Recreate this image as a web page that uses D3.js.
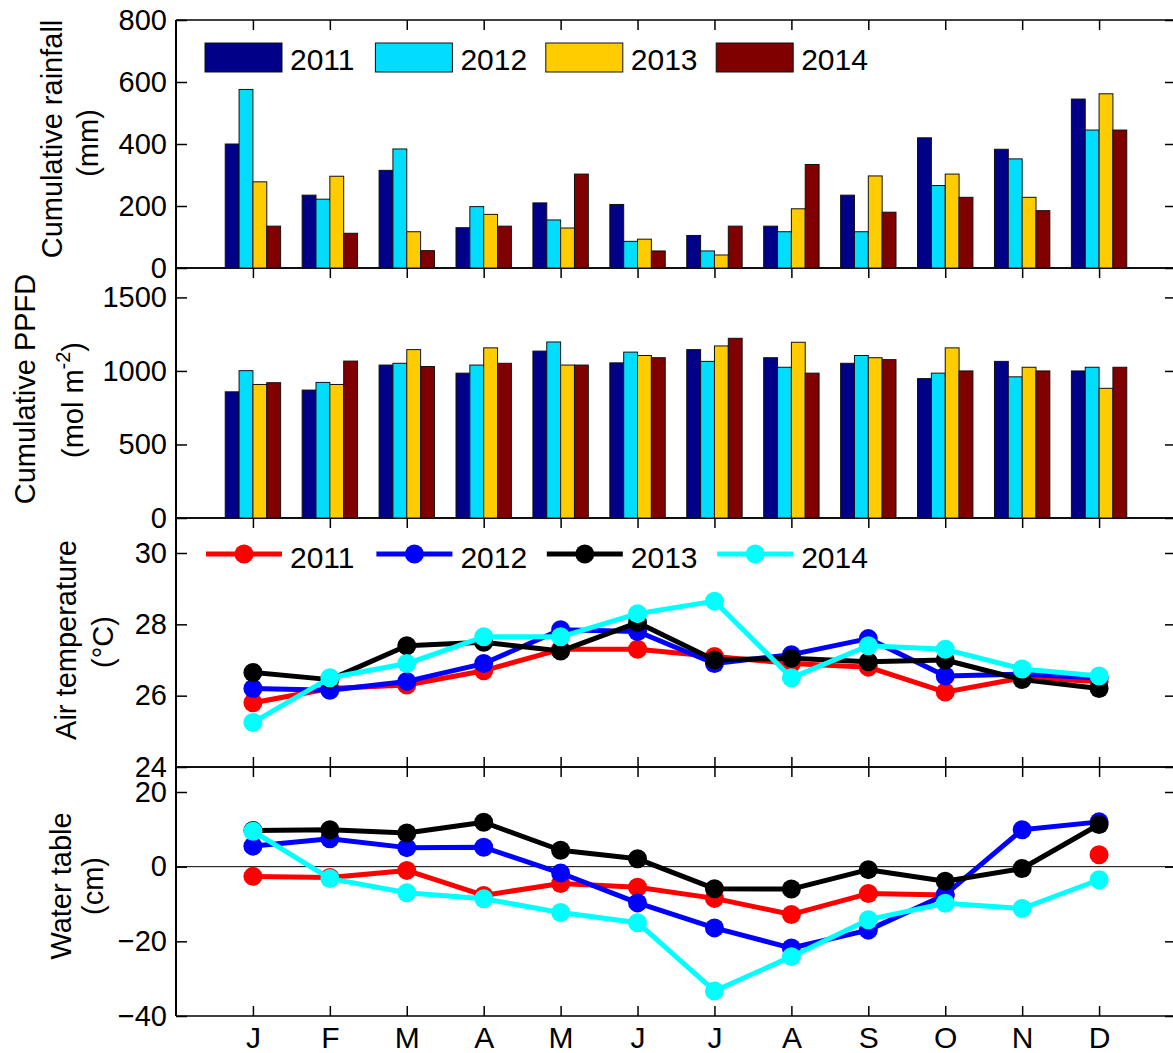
<!DOCTYPE html>
<html>
<head>
<meta charset="utf-8">
<script src="https://cdn.jsdelivr.net/npm/d3@7"></script>
<style>
  html, body { margin: 0; padding: 0; background: #fff; }
  svg { display: block; font-family: "Liberation Sans", Arial, Helvetica, sans-serif; }
</style>
</head>
<body>
<svg id="chart" width="1173" height="1053"></svg>
<script>
// ---------------- DATA ----------------
const months = ["J","F","M","A","M","J","J","A","S","O","N","D"];
const years = ["2011","2012","2013","2014"];

const rain2011 = [400, 235, 315, 130, 210, 205, 105, 135, 235, 420, 383, 545];
const rain2012 = [576, 222, 384, 198, 155, 86, 55, 117, 117, 266, 352, 445];
const rain2013 = [278, 296, 117, 173, 129, 93, 42, 191, 297, 303, 228, 562];
const rain2014 = [135, 112, 56, 135, 303, 55, 135, 334, 180, 228, 185, 445];

const ppfd2011 = [858, 870, 1040, 985, 1135, 1055, 1145, 1090, 1052, 948, 1065, 1000];
const ppfd2012 = [1002, 922, 1052, 1040, 1197, 1128, 1065, 1025, 1105, 985, 960, 1025];
const ppfd2013 = [908, 908, 1145, 1157, 1040, 1105, 1170, 1195, 1090, 1157, 1025, 882];
const ppfd2014 = [920, 1067, 1030, 1052, 1040, 1090, 1222, 985, 1077, 1000, 1000, 1025];

const temp2011 = [25.8, 26.2, 26.3, 26.7, 27.3, 27.3, 27.1, 26.9, 26.8, 26.1, 26.5, 26.4];
const temp2012 = [26.2, 26.15, 26.4, 26.9, 27.85, 27.8, 26.9, 27.15, 27.6, 26.55, 26.6, 26.5];
const temp2013 = [26.65, 26.45, 27.4, 27.5, 27.25, 28.05, 27.0, 27.05, 26.95, 27.0, 26.45, 26.2];
const temp2014 = [25.25, 26.5, 26.9, 27.65, 27.65, 28.3, 28.65, 26.5, 27.4, 27.3, 26.75, 26.55];

const wt2011 = [-2.6, -2.9, -1.0, -7.7, -4.5, -5.5, -8.5, -12.8, -7.2, -7.6, null, 3.2];
const wt2012 = [5.5, 7.5, 5.1, 5.2, -1.7, -9.7, -16.4, -21.8, -17.0, -7.5, 9.9, 12.0];
const wt2013 = [9.7, 9.9, 9.0, 11.9, 4.4, 2.1, -5.9, -6.0, -0.8, -3.9, -0.5, 11.3];
const wt2014 = [9.5, -3.2, -7.0, -8.6, -12.3, -15.0, -33.3, -24.1, -14.2, -9.8, -11.2, -3.5];

const rainTicks = [0, 200, 400, 600, 800];
const ppfdTicks = [0, 500, 1000, 1500];
const tempTicks = [24, 26, 28, 30];
const wtTicks = [-40, -20, 0, 20];

const barColors = ["#000088", "#00DDFF", "#FFCC00", "#800000"];
const lineColors = ["#FF0000", "#0000FF", "#000000", "#00FFFF"];

// ---------------- LAYOUT ----------------
const svg = d3.select("#chart");
const L = 176, R = 1176;
const x = d3.scaleLinear().domain([0, 13]).range([L, R]);
const step = x(1) - x(0);
const barW = step * 0.18;
const FS = 29;
const intFmt = d3.format("d");

const panels = [
  { top: 20,  bottom: 268, y: d3.scaleLinear().domain([0, 800]).range([268, 20]), ticks: rainTicks,
    label: [{t: "Cumulative rainfall", bx: 62, cy: 139}, {t: "(mm)", bx: 98, cy: 143}] },
  { top: 268, bottom: 518, y: d3.scaleLinear().domain([0, 1700]).range([518, 268]), ticks: ppfdTicks,
    label: [{t: "Cumulative PPFD", bx: 35, cy: 389}, {t: "(mol m", sup: "-2", tail: ")", bx: 83, cy: 400}] },
  { top: 518, bottom: 767, y: d3.scaleLinear().domain([24, 30]).range([767, 553]), ticks: tempTicks,
    label: [{t: "Air temperature", bx: 76, cy: 640}, {t: "(°C)", bx: 113, cy: 642}] },
  { top: 767, bottom: 1016, y: d3.scaleLinear().domain([-40, 20]).range([1016, 792]), ticks: wtTicks,
    label: [{t: "Water table", bx: 71, cy: 886}, {t: "(cm)", bx: 103, cy: 886}] }
];

const monthIdx = d3.range(1, 13);

// ---------------- AXES ----------------
panels.forEach((p, pi) => {
  const g = svg.append("g");
  const la = g.append("g").attr("transform", `translate(${L},0)`)
    .call(d3.axisLeft(p.y).tickValues(p.ticks).tickSize(-11).tickSizeOuter(0).tickPadding(9).tickFormat(intFmt));
  const ra = g.append("g").attr("transform", `translate(${R},0)`)
    .call(d3.axisRight(p.y).tickValues(p.ticks).tickSize(-11).tickSizeOuter(0).tickFormat(""));
  const ta = g.append("g").attr("transform", `translate(0,${p.top})`)
    .call(d3.axisTop(x).tickValues(monthIdx).tickSize(-10).tickSizeOuter(0).tickFormat(""));
  const ba = g.append("g").attr("transform", `translate(0,${p.bottom})`)
    .call(d3.axisBottom(x).tickValues(monthIdx).tickSize(-10).tickSizeOuter(0).tickPadding(11)
      .tickFormat(pi === 3 ? (d => months[d - 1]) : (() => "")));
  [la, ra, ta, ba].forEach(a => {
    a.select(".domain").remove();
    a.selectAll(".tick line").attr("stroke", "#000").attr("stroke-width", 1.5);
    a.selectAll("text").attr("font-size", FS).attr("fill", "#000")
      .attr("font-family", "'Liberation Sans', Arial, sans-serif");
  });
  ba.selectAll("text").attr("font-size", 30);
  g.append("line").attr("x1", L).attr("x2", L).attr("y1", p.top).attr("y2", p.bottom)
    .attr("stroke", "#000").attr("stroke-width", 2);
  g.append("line").attr("x1", L).attr("x2", R).attr("y1", p.top).attr("y2", p.top)
    .attr("stroke", "#000").attr("stroke-width", 1.5);
  g.append("line").attr("x1", L).attr("x2", R).attr("y1", p.bottom).attr("y2", p.bottom)
    .attr("stroke", "#000").attr("stroke-width", 1.5);
  g.append("line").attr("x1", R).attr("x2", R).attr("y1", p.top).attr("y2", p.bottom)
    .attr("stroke", "#000").attr("stroke-width", 1.5);

  p.label.forEach(lb => {
    const t = g.append("text")
      .attr("transform", `translate(${lb.bx},${lb.cy}) rotate(-90)`)
      .attr("text-anchor", "middle")
      .attr("font-size", FS).attr("fill", "#000");
    t.append("tspan").text(lb.t);
    if (lb.sup) {
      t.append("tspan").attr("font-size", 20).attr("dy", -13).text(lb.sup);
      t.append("tspan").attr("dy", 13).text(lb.tail);
    }
  });
});

// ---------------- BAR PANELS ----------------
function drawBars(p, series) {
  const g = svg.append("g");
  series.forEach((vals, k) => {
    g.selectAll(null).data(vals).enter().append("rect")
      .attr("x", (d, i) => x(i + 1) + (k - 2) * barW)
      .attr("width", barW)
      .attr("y", d => p.y(d))
      .attr("height", d => p.y(0) - p.y(d))
      .attr("fill", barColors[k])
      .attr("stroke", "#111").attr("stroke-width", 1);
  });
}
drawBars(panels[0], [rain2011, rain2012, rain2013, rain2014]);
drawBars(panels[1], [ppfd2011, ppfd2012, ppfd2013, ppfd2014]);

// ---------------- LINE PANELS ----------------
svg.append("line").attr("x1", L).attr("x2", R)
  .attr("y1", panels[3].y(0)).attr("y2", panels[3].y(0))
  .attr("stroke", "#000").attr("stroke-width", 1);

function drawLines(p, series) {
  const g = svg.append("g");
  series.forEach((vals, k) => {
    const pts = vals.map((v, i) => ({i: i + 1, v}));
    const line = d3.line().defined(d => d.v !== null)
      .x(d => x(d.i)).y(d => p.y(d.v));
    g.append("path").datum(pts).attr("d", line)
      .attr("fill", "none").attr("stroke", lineColors[k]).attr("stroke-width", 5)
      .attr("stroke-linejoin", "round");
    g.selectAll(null).data(pts.filter(d => d.v !== null)).enter().append("circle")
      .attr("cx", d => x(d.i)).attr("cy", d => p.y(d.v)).attr("r", 9.5)
      .attr("fill", lineColors[k]);
  });
}
drawLines(panels[2], [temp2011, temp2012, temp2013, temp2014]);
drawLines(panels[3], [wt2011, wt2012, wt2013, wt2014]);

// ---------------- LEGENDS ----------------
const legStep = 170.4;
const leg1 = svg.append("g");
years.forEach((yr, k) => {
  const x0 = 205 + k * legStep;
  leg1.append("rect").attr("x", x0).attr("y", 43).attr("width", 77).attr("height", 29)
    .attr("fill", barColors[k]).attr("stroke", "#111").attr("stroke-width", 1);
  leg1.append("text").attr("x", x0 + 85).attr("y", 70).attr("font-size", 30).attr("fill", "#000").text(yr);
});
const leg2 = svg.append("g");
years.forEach((yr, k) => {
  const x0 = 206 + k * legStep;
  leg2.append("line").attr("x1", x0).attr("x2", x0 + 76).attr("y1", 554).attr("y2", 554)
    .attr("stroke", lineColors[k]).attr("stroke-width", 5);
  leg2.append("circle").attr("cx", x0 + 38).attr("cy", 554).attr("r", 9.5).attr("fill", lineColors[k]);
  leg2.append("text").attr("x", x0 + 84).attr("y", 568).attr("font-size", 30).attr("fill", "#000").text(yr);
});
</script>
</body>
</html>
